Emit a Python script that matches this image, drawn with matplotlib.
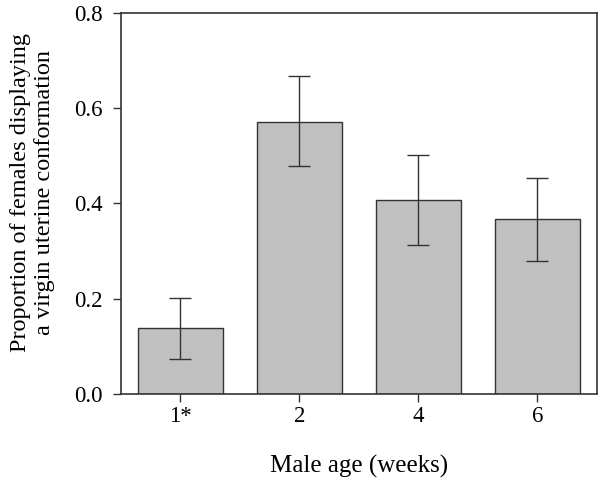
import matplotlib
matplotlib.use("Agg")
import matplotlib.pyplot as plt

categories = ["1*", "2", "4", "6"]
values = [0.138, 0.571, 0.407, 0.366]
err_upper = [0.202, 0.666, 0.502, 0.454]
err_lower = [0.073, 0.478, 0.312, 0.279]

plt.rcParams['font.family'] = ['Liberation Serif', 'DejaVu Serif']

fig = plt.figure(figsize=(6.04, 4.82), dpi=100)
ax = fig.add_axes([0.2003, 0.1826, 0.7881, 0.7914])

x = list(range(len(categories)))
yerr = [[v - lo for v, lo in zip(values, err_lower)],
        [hi - v for v, hi in zip(values, err_upper)]]
ax.bar(x, values, width=0.71, color='#c0c0c0', edgecolor='#333333', linewidth=1.0, zorder=2)
ax.errorbar(x, values, yerr=yerr, fmt='none', ecolor='#333333', elinewidth=1.0,
            capsize=8, capthick=1.0, zorder=3)

ax.set_xlim(-0.5, 3.5)
ax.set_ylim(0, 0.8)
ax.set_xticks(x)
ax.set_xticklabels(categories)
ax.set_yticks([0.0, 0.2, 0.4, 0.6, 0.8])
ax.set_yticklabels(["0.0", "0.2", "0.4", "0.6", "0.8"])
ax.tick_params(axis='both', labelsize=16.5, length=6, width=1.0, color='#333333')
ax.tick_params(axis='y', pad=7)
ax.tick_params(axis='x', pad=3)
for s in ax.spines.values():
    s.set_color('#333333')
    s.set_linewidth(1.2)

ax.set_xlabel("Male age (weeks)", fontsize=18, labelpad=20)
ax.set_ylabel("Proportion of females displaying\na virgin uterine conformation", fontsize=17.5,
              linespacing=1.2)
ax.yaxis.set_label_coords(-0.138, 0.527)

fig.savefig("out.png", dpi=100)
